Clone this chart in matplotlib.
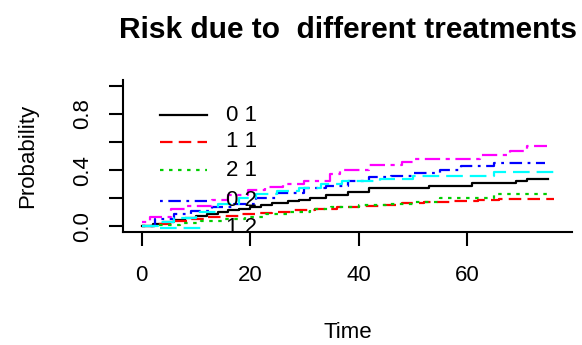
import matplotlib
matplotlib.use("Agg")
import matplotlib.pyplot as plt

# ---------------- data ---------------- #
labels = ["0 1", "1 1", "2 1", "0 2", "1 2", "2 2"]
colors = ["#000000", "#FF0000", "#00CD00", "#0000FF", "#00FFFF", "#FF00FF"]

black_t = [0, 2, 4, 6, 8, 10, 12, 14, 16, 18, 20, 22, 24, 27, 29, 31, 34, 38, 42, 53, 61, 69, 71, 75]
black_v = [0.0, 0.015, 0.03, 0.045, 0.06, 0.075, 0.09, 0.10, 0.115, 0.125, 0.135, 0.15,
           0.165, 0.18, 0.19, 0.20, 0.22, 0.245, 0.27, 0.285, 0.31, 0.325, 0.34, 0.34]

red_t = [0, 3, 6, 9, 12, 15, 18, 21, 24, 28, 32, 36, 40, 44, 48, 52, 57, 62, 66, 76]
red_v = [0.0, 0.02, 0.035, 0.05, 0.065, 0.075, 0.085, 0.095, 0.105, 0.115, 0.125,
         0.135, 0.145, 0.155, 0.165, 0.17, 0.18, 0.185, 0.195, 0.195]

green_t = [0, 3, 7, 11, 15, 19, 23, 27, 31, 35, 40, 45, 50, 55, 65, 75]
green_v = [0.0, 0.01, 0.025, 0.04, 0.055, 0.07, 0.09, 0.105, 0.12, 0.135, 0.15, 0.16,
           0.17, 0.205, 0.23, 0.23]

blue_t = [0, 2.5, 6, 9, 13, 17, 21, 25, 30, 34, 38, 42, 46, 50, 55, 59, 65, 74.5]
blue_v = [0.0, 0.05, 0.09, 0.11, 0.135, 0.16, 0.2, 0.24, 0.27, 0.29, 0.32, 0.35, 0.36,
          0.38, 0.40, 0.43, 0.45, 0.45]

cyan_t = [0, 3, 6, 10, 14, 18, 21, 25, 29, 33, 37, 44, 50, 65, 76.5]
cyan_v = [0.0, 0.03, 0.06, 0.10, 0.16, 0.205, 0.23, 0.25, 0.27, 0.30, 0.325, 0.34,
          0.355, 0.386, 0.386]

magenta_t = [0, 1.5, 5.4, 8, 13, 16, 19.6, 22.7, 26, 30, 34.7, 36.6, 42, 48, 50.5,
             62.5, 68, 71, 74.8]
magenta_v = [0.03, 0.07, 0.12, 0.145, 0.19, 0.22, 0.255, 0.28, 0.30, 0.325, 0.375,
             0.40, 0.435, 0.457, 0.48, 0.51, 0.535, 0.57, 0.57]

x_ticks = [0, 20, 40, 60]
y_ticks = [0.0, 0.2, 0.4, 0.6, 0.8, 1.0]
y_ticklabels = ["0.0", "", "0.4", "", "0.8", ""]

# R style line types, in points (not scaled by linewidth)
styles = ["-", (0, (9, 4.5)), (0, (2.5, 4)), (0, (2, 4, 9, 4)), (0, (12, 5)), (0, (3, 4, 11, 4))]

# ---------------- plot ---------------- #
plt.rcParams["font.family"] = ["Liberation Sans", "DejaVu Sans"]
plt.rcParams["lines.scale_dashes"] = False

fig = plt.figure(figsize=(5.82, 3.45), dpi=100)
ax = fig.add_axes([0.2119, 0.3275, 0.771, 0.4406])

series = [(black_t, black_v), (red_t, red_v), (green_t, green_v),
          (blue_t, blue_v), (cyan_t, cyan_v), (magenta_t, magenta_v)]
for (t, v), c, ls in zip(series, colors, styles):
    ax.step(t, v, where="post", color=c, linestyle=ls, linewidth=1.6)

ax.set_xlim(-3.4, 79.4)
ax.set_ylim(-0.04, 1.04)

# legend drawn like R's: no box, clipped to the plot region
leg_y = [0.79, 0.60, 0.40, 0.183, -0.009, -0.21]
for y, lab, c, ls in zip(leg_y, labels, colors, styles):
    ax.plot([3.4, 12.0], [y, y], color=c, linestyle=ls, linewidth=1.6, clip_on=True)
    ax.text(15.6, y, lab, fontsize=16, va="center", ha="left", clip_on=True)

for s in ["top", "right"]:
    ax.spines[s].set_visible(False)
for s in ["left", "bottom"]:
    ax.spines[s].set_linewidth(1.5)

ax.set_xticks(x_ticks)
ax.set_yticks(y_ticks)
ax.set_yticklabels(y_ticklabels, rotation=90, va="center")
ax.tick_params(axis="both", direction="out", length=10, width=1.5, labelsize=16)
ax.tick_params(axis="x", pad=14)
ax.tick_params(axis="y", pad=12)

ax.set_xlabel("Time", fontsize=16, labelpad=26)
ax.set_ylabel("Probability", fontsize=16, labelpad=24)
ax.set_title("Risk due to  different treatments", fontsize=21.5, fontweight="bold", pad=30)

fig.savefig("out.png", dpi=100)
